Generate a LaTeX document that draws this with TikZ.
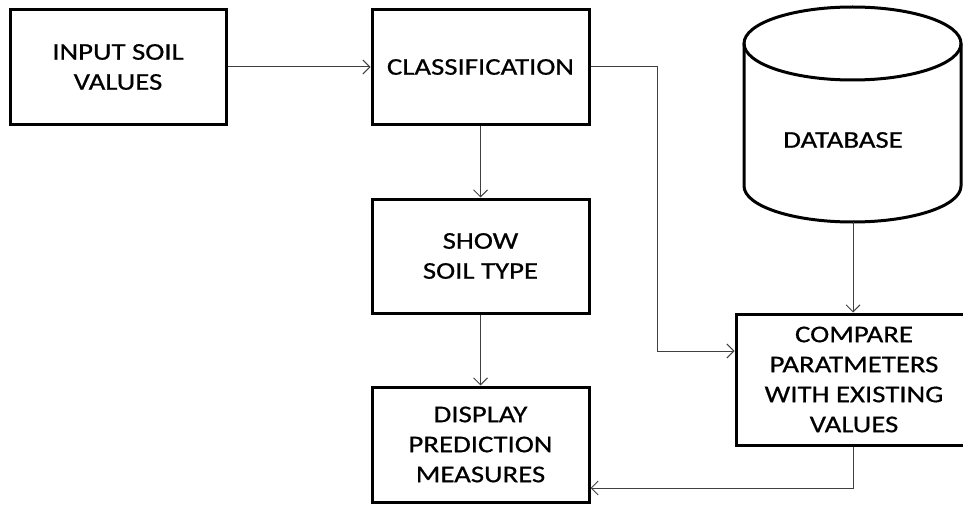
\documentclass[tikz,border=0pt]{standalone}
\usepackage{fontspec}
\setmainfont{Carlito}[FakeStretch=1.2,FakeBold=0.6]
\usetikzlibrary{arrows.meta}
\begin{document}
\begin{tikzpicture}[x=1pt,y=-1pt,
  block/.style={draw=black,line width=3pt,fill=white,inner sep=0pt,align=center,
    font=\fontsize{24}{30}\selectfont},
  link/.style={draw=black!75,line width=1pt,-{Straight Barb[length=7pt,width=14pt,line width=1pt]}},
  label/.style={font=\fontsize{24}{30}\selectfont,align=center}]
\useasboundingbox (0,0) rectangle (963,505);

% process boxes
\node[block,minimum width=216pt,minimum height=115pt] (input) at (118,67) {INPUT SOIL\\VALUES};
\node[block,minimum width=217pt,minimum height=115pt] (classify) at (480.5,67) {CLASSIFICATION};
\node[block,minimum width=217pt,minimum height=114pt] (show) at (480.5,256) {SHOW\\SOIL TYPE};
\node[block,minimum width=217pt,minimum height=115pt] (display) at (480.5,444.5) {DISPLAY\\PREDICTION\\MEASURES};
\node[block,minimum width=236pt,minimum height=131pt] (compare) at (854,379.5) {COMPARE\\PARATMETERS\\WITH EXISTING\\VALUES};

% database cylinder
\draw[line width=3pt,fill=white] (744,43.5) -- (744,186)
  arc[start angle=180,end angle=360,x radius=108.5pt,y radius=36pt]
  -- (961,43.5);
\draw[line width=3pt] (852.5,43.5) ellipse[x radius=108.5pt,y radius=36.5pt];
\node[label] (dbtext) at (843,140) {DATABASE};
\coordinate (dbbottom) at (853,222);

% connectors
\draw[link] (input.east) -- (classify.west);
\draw[link] (classify.south) -- (show.north);
\draw[link] (show.south) -- (display.north);
\draw[link] (classify.east) -| (657,351) -- (compare.west |- 0,351);
\draw[link] (dbbottom) -- (dbbottom |- compare.north);
\draw[link] (compare.south -| dbbottom) |- (display.east |- 0,488);
\end{tikzpicture}
\end{document}
